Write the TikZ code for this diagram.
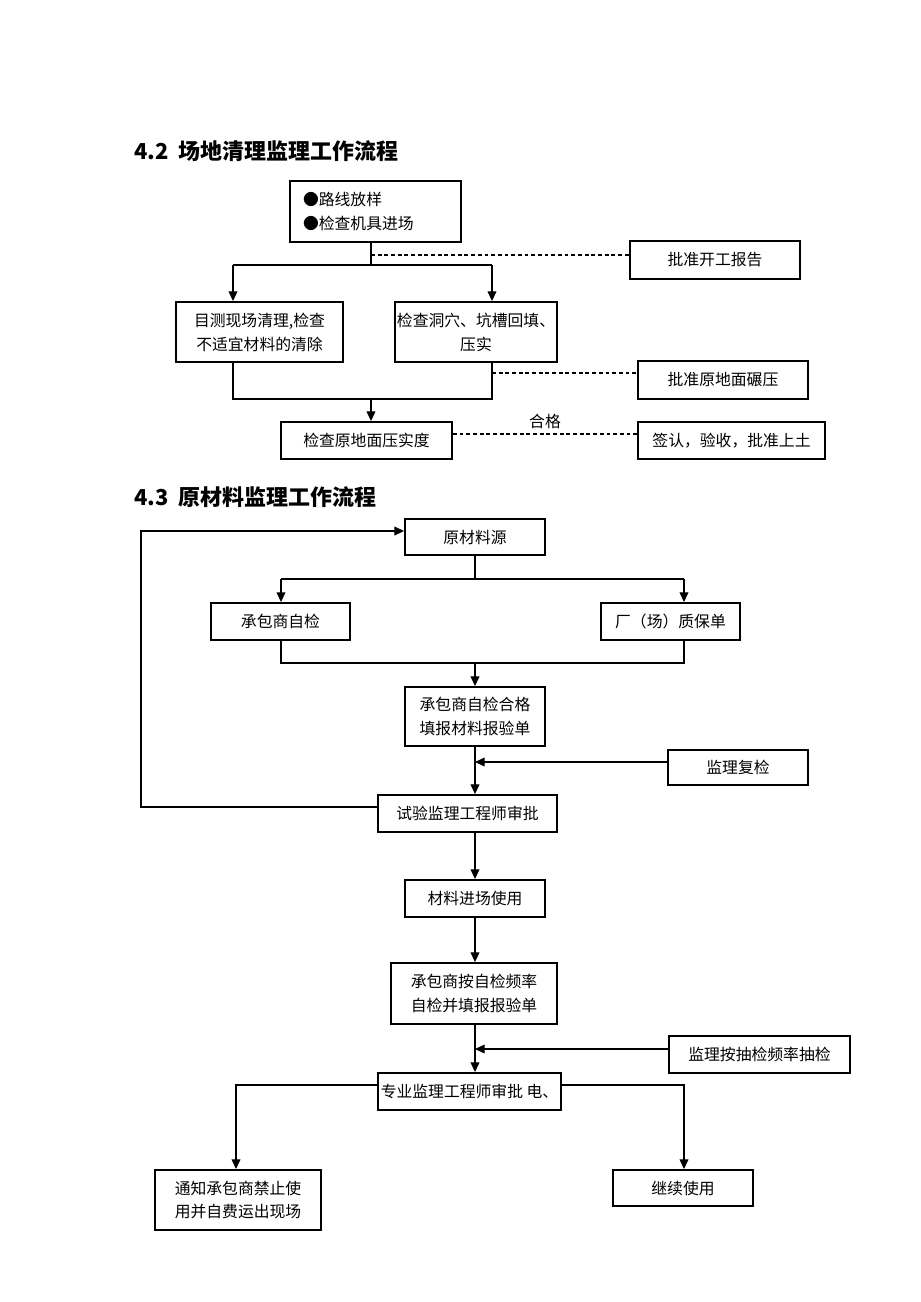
\documentclass[tikz,border=0pt]{standalone}
\usepackage{fontspec}
\setmainfont{Noto Sans CJK SC}
\usetikzlibrary{arrows.meta}

\begin{document}
\begin{tikzpicture}[x=0.02cm, y=-0.02cm,
    box/.style={draw, rectangle, line width=1.1pt, inner sep=0pt, align=center, font=\fontsize{9}{13.6}\selectfont},
    title/.style={font=\bfseries\fontsize{12.5}{15}\selectfont, anchor=west},
    arrow/.style={-{Triangle[length=5.5pt,width=5pt]}, line width=0.6pt},
    link/.style={line width=0.6pt},
    dashline/.style={dash pattern=on 2.2pt off 1.6pt, line width=0.6pt}
]
\useasboundingbox (0,0) rectangle (920,1302);

% Titles
\node[title] (t1) at (128,151) {4.2\ \ 场地清理监理工作流程};
\node[title] (t2) at (128,497) {4.3\ \ 原材料监理工作流程};

% 4.2 boxes
\node[box, align=left, text width=2.9cm, inner xsep=0.26cm, minimum height=1.22cm] (sA) at (375.5,211.5) {●路线放样\\●检查机具进场};
\node[box, minimum width=3.4cm, minimum height=0.76cm] (sB1) at (715,260) {批准开工报告};
\node[box, minimum width=3.34cm, minimum height=1.2cm] (sL) at (259.5,332) {目测现场清理,检查\\不适宜材料的清除};
\node[box, minimum width=3.24cm, minimum height=1.2cm] (sR) at (476,332) {检查洞穴、坑槽回填、\\压实};
\node[box, minimum width=3.4cm, minimum height=0.76cm] (sB2) at (723,380) {批准原地面碾压};
\node[box, minimum width=3.42cm, minimum height=0.74cm] (sC) at (366.5,440.5) {检查原地面压实度};
\node[box, minimum width=3.74cm, minimum height=0.74cm] (sB3) at (731.5,440.5) {签认，验收，批准上土};

% 4.2 connectors
\coordinate (j1) at (371,265);
\coordinate (jl) at (233,265);
\coordinate (jr) at (492,265);
\coordinate (j2) at (371,399);
\draw[link] (sA.south -| j1) -- (j1);
\draw[link] (jl) -- (jr);
\draw[arrow] (jl) -- (jl |- sL.north);
\draw[arrow] (jr) -- (jr |- sR.north);
\draw[link] (jl |- sL.south) -- (jl |- j2) -- (jr |- j2) -- (jr |- sR.south);
\draw[arrow] (j2) -- (j2 |- sC.north);

% approvals (dashed)
\coordinate (d1) at (371,255);
\coordinate (d2) at (492,373);
\coordinate (d3) at (452,434);
\draw[dashline] (d1) -- (d1 -| sB1.west);
\draw[dashline] (d2) -- (d2 -| sB2.west);
\draw[dashline] (sC.east |- d3) -- (d3 -| sB3.west);
\node[font=\fontsize{9}{11}\selectfont] (ok) at (545,421) {合格};

% 4.3 boxes
\node[box, minimum width=2.8cm, minimum height=0.72cm] (mSrc) at (475,537) {原材料源};
\node[box, minimum width=2.78cm, minimum height=0.74cm] (mSelf) at (280.5,621.5) {承包商自检};
\node[box, minimum width=2.78cm, minimum height=0.74cm] (mCert) at (670.5,621.5) {厂（场）质保单};
\node[box, minimum width=2.8cm, minimum height=1.18cm] (mOk) at (475,716.5) {承包商自检合格\\填报材料报验单};
\node[box, minimum width=2.8cm, minimum height=0.7cm] (mRe) at (738,767.5) {监理复检};
\node[box, minimum width=3.58cm, minimum height=0.74cm] (mApp) at (467.5,813.5) {试验监理工程师审批};
\node[box, minimum width=2.8cm, minimum height=0.74cm] (mUse) at (475,898.5) {材料进场使用};
\node[box, minimum width=3.32cm, minimum height=1.22cm] (mFreq) at (474,993.5) {承包商按自检频率\\自检并填报报验单};
\node[box, minimum width=3.62cm, minimum height=0.74cm] (mSpot) at (759.5,1054.5) {监理按抽检频率抽检};
\node[box, minimum width=3.66cm, minimum height=0.74cm] (mPro) at (469.5,1091.5) {专业监理工程师审批\ 电、};
\node[box, minimum width=3.32cm, minimum height=1.2cm] (mBan) at (238,1200) {通知承包商禁止使\\用并自费运出现场};
\node[box, minimum width=2.8cm, minimum height=0.72cm] (mGo) at (683,1188) {继续使用};

% 4.3 connectors
\coordinate (k1) at (475,579);
\coordinate (kl) at (281,579);
\coordinate (kr) at (684,579);
\coordinate (k2) at (475,663);
\draw[link] (mSrc.south) -- (k1);
\draw[link] (kl) -- (kr);
\draw[arrow] (kl) -- (kl |- mSelf.north);
\draw[arrow] (kr) -- (kr |- mCert.north);
\draw[link] (kl |- mSelf.south) -- (kl |- k2) -- (kr |- k2) -- (kr |- mCert.south);
\draw[arrow] (k2) -- (mOk.north);
\draw[arrow] (mOk.south) -- (mOk.south |- mApp.north);
\coordinate (r1) at (668,762);
\draw[arrow] (mRe.west |- r1) -- (mOk.south |- r1);

% back to the source
\coordinate (fb) at (141,807);
\coordinate (fb2) at (141,531);
\draw[arrow] (mApp.west |- fb) -- (fb) -- (fb2) -- (fb2 -| mSrc.west);

\draw[arrow] (mOk.south |- mApp.south) -- (mUse.north);
\draw[arrow] (mUse.south) -- (mUse.south |- mFreq.north);
\draw[arrow] (mUse.south |- mFreq.south) -- (mUse.south |- mPro.north);
\coordinate (r2) at (669,1049);
\draw[arrow] (mSpot.west |- r2) -- (mUse.south |- r2);

% outcomes
\coordinate (p1) at (236,1085);
\coordinate (p2) at (684,1085);
\draw[arrow] (mPro.west |- p1) -- (p1) -- (p1 |- mBan.north);
\draw[arrow] (mPro.east |- p2) -- (p2) -- (p2 |- mGo.north);

\end{tikzpicture}
\end{document}
